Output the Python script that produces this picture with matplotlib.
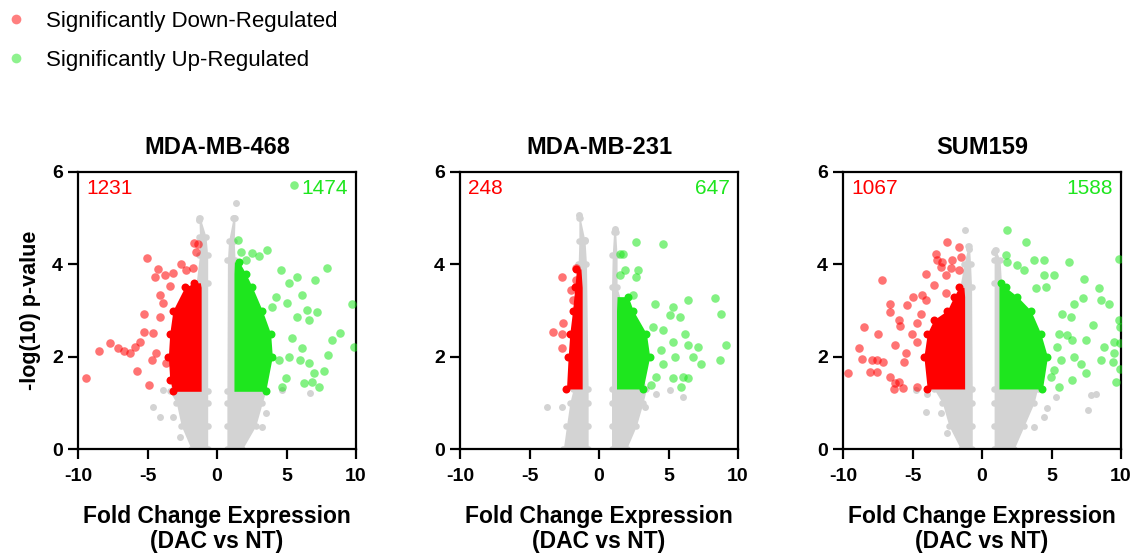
import matplotlib
matplotlib.use("Agg")
from matplotlib import pyplot as plt
from matplotlib.lines import Line2D

plt.rcParams['font.family'] = ['Liberation Sans', 'DejaVu Sans']

titles = ["MDA-MB-468", "MDA-MB-231", "SUM159"]
n_down = [1231, 248, 1067]
n_up = [1474, 647, 1588]
xticks = [-10, -5, 0, 5, 10]
yticks = [0, 2, 4, 6]

# dense cores: y levels with left / right x edges
gray_l_y = [[0, 0.5, 1.0, 1.25, 3.6, 4.2, 4.6, 5.0],
            [0, 0.5, 1.0, 1.3, 4.0, 4.5, 5.0],
            [0, 0.5, 1.0, 1.3, 3.5, 4.0, 4.4]]
gray_l_x0 = [[-1.86, -2.57, -2.93, -3.4, -1.5, -1.26, -1.26, -1.3],
             [-2.57, -2.34, -2.1, -1.86, -1.5, -1.45, -1.45],
             [-1.54, -2.38, -2.86, -3.46, -1.6, -1.3, -1.0]]
gray_l_x1 = [[-0.67, -0.67, -0.67, -0.67, -0.67, -0.67, -0.79, -1.2],
             [-0.78, -0.78, -0.78, -0.78, -0.9, -1.0, -1.35],
             [-0.70, -0.70, -0.70, -0.70, -0.75, -0.82, -0.9]]
gray_r_y = [[0, 0.5, 1.0, 1.25, 4.1, 4.5, 5.0],
            [0, 0.5, 1.0, 1.3, 3.5, 4.2, 4.7],
            [0, 0.5, 1.0, 1.3, 3.6, 4.1, 4.3]]
gray_r_x0 = [[0.71, 0.71, 0.71, 0.71, 0.75, 0.83, 1.15],
             [0.90, 0.90, 0.90, 0.90, 0.90, 0.95, 1.05],
             [0.87, 0.87, 0.87, 0.87, 0.87, 0.87, 0.9]]
gray_r_x1 = [[1.83, 2.79, 3.26, 3.5, 1.3, 1.24, 1.3],
             [1.98, 2.69, 3.17, 3.41, 1.3, 1.3, 1.2],
             [2.31, 3.03, 3.75, 4.0, 1.4, 1.3, 1.0]]

red_y = [[1.25, 1.5, 2.0, 2.5, 3.0, 3.5, 3.6],
         [1.3, 2.0, 2.5, 3.0, 3.5, 3.9],
         [1.3, 2.0, 2.5, 2.8, 3.0, 3.3, 3.5]]
red_x0 = [[-3.17, -3.4, -3.5, -3.4, -3.17, -2.33, -1.62],
          [-2.34, -2.22, -2.1, -1.9, -1.74, -1.62],
          [-3.94, -4.18, -3.94, -3.46, -2.5, -2.02, -1.66]]
red_x1 = [[-1.14, -1.14, -1.14, -1.14, -1.14, -1.14, -1.2],
          [-1.21, -1.21, -1.21, -1.21, -1.21, -1.3],
          [-1.25, -1.25, -1.25, -1.25, -1.25, -1.25, -1.3]]
green_y = [[1.25, 2.0, 2.5, 3.0, 3.5, 3.8, 4.05],
           [1.3, 2.0, 2.5, 3.0, 3.3],
           [1.3, 2.0, 2.5, 3.0, 3.3, 3.5, 3.6]]
green_x0 = [[1.22, 1.22, 1.22, 1.22, 1.22, 1.22, 1.25],
            [1.26, 1.26, 1.26, 1.26, 1.3],
            [1.22, 1.22, 1.22, 1.22, 1.22, 1.22, 1.25]]
green_x1 = [[3.5, 3.98, 3.86, 3.26, 2.55, 2.07, 1.6],
            [3.17, 3.65, 3.41, 2.46, 2.1],
            [4.35, 4.71, 4.23, 3.51, 2.55, 1.71, 1.4]]

# scattered points outside the cores
red_px = [[-9.40, -8.52, -7.69, -7.10, -6.69, -6.26, -5.90, -5.79, -5.55, -5.26, -5.24, -5.07, -4.88,
           -4.60, -4.48, -4.24, -4.12, -3.88, -3.76, -3.17, -2.57, -2.21, -1.62, -1.50, -1.38, -1.74,
           -4.36, -3.64, -4.71, -4.07, -3.40],
          [-3.29, -2.69, -2.62, -2.69, -2.69, -1.98, -1.62, -1.62, -1.86],
          [-9.66, -8.87, -8.63, -8.46, -8.08, -7.91, -7.55, -7.55, -7.50, -7.19, -7.12, -6.63, -6.59,
           -6.59, -6.23, -6.23, -5.99, -6.35, -5.67, -5.99, -5.87, -5.50, -5.38, -4.95, -5.63, -5.02,
           -4.66, -4.66, -4.42, -4.30, -4.06, -4.06, -3.46, -3.34, -3.22, -2.98, -2.86, -2.62, -2.50,
           -2.26, -2.14, -1.66, -1.54, -1.66, -2.62, -4.66]]
red_py = [[1.53, 2.12, 2.29, 2.18, 2.13, 2.09, 2.22, 1.68, 2.32, 2.54, 2.92, 4.14, 1.39,
           2.51, 3.73, 3.89, 3.34, 3.16, 3.77, 3.81, 4.01, 3.88, 4.47, 4.27, 4.45, 3.91,
           2.07, 1.86, 1.93, 2.87, 3.52],
          [2.54, 2.50, 2.72, 2.18, 3.73, 3.44, 3.91, 3.66, 3.22],
          [1.64, 2.18, 1.94, 2.65, 1.67, 1.93, 1.93, 1.67, 2.49, 3.66, 1.89, 3.15, 2.97,
           1.56, 2.25, 1.42, 1.46, 1.31, 1.33, 2.79, 2.67, 2.07, 3.11, 3.29, 1.89, 2.50,
           2.72, 2.32, 2.93, 3.33, 3.22, 3.80, 3.55, 4.23, 4.09, 3.94, 4.05, 3.76, 4.48,
           3.91, 4.09, 4.38, 4.16, 3.87, 3.37, 1.35]]
green_px = [[5.52, 9.69, 9.88, 7.90, 8.86, 8.26, 8.02, 7.07, 7.19, 6.60, 5.76, 5.17, 4.64, 6.12,
             6.48, 5.76, 5.40, 6.12, 6.00, 6.60, 6.95, 7.67, 6.83, 6.24, 4.93, 4.69, 3.62, 3.02,
             2.55, 1.71, 1.48, 2.07, 4.21, 3.98, 5.05, 4.45, 5.17, 7.31],
            [2.69, 4.61, 1.50, 1.74, 1.86, 2.81, 2.69, 1.50, 2.46, 4.01, 6.41, 8.32, 8.80, 9.16,
             8.68, 7.37, 6.77, 7.13, 6.17, 6.41, 5.81, 5.09, 5.33, 5.45, 6.05, 5.93, 6.41, 5.33,
             4.61, 4.49, 4.13, 3.77, 3.89, 4.61, 5.33],
            [1.78, 3.20, 1.71, 1.83, 2.50, 3.03, 3.75, 4.47, 6.27, 7.31, 9.88, 8.44, 8.56, 9.16,
             7.24, 6.63, 5.19, 4.47, 3.87, 4.59, 9.88, 9.90, 9.95, 9.52, 9.52, 9.95, 9.64, 9.40,
             8.80, 8.56, 7.96, 7.48, 7.48, 7.12, 6.51, 6.63, 6.15, 5.79, 6.39, 5.55, 5.43, 5.19,
             5.55, 4.95, 5.67, 6.51]]
green_py = [[5.72, 3.14, 2.22, 3.91, 2.51, 2.36, 2.04, 3.66, 2.97, 2.79, 3.73, 3.59, 3.88, 3.34,
             3.01, 2.87, 2.40, 2.18, 1.93, 1.86, 1.64, 1.68, 1.46, 1.42, 1.53, 1.35, 4.31, 4.17,
             4.24, 4.27, 4.53, 4.09, 3.30, 3.08, 3.16, 1.93, 2.00, 1.35],
            [4.48, 4.45, 4.23, 4.23, 3.87, 3.87, 3.73, 3.76, 3.33, 3.15, 3.22, 3.27, 2.93, 2.25,
             1.93, 1.85, 2.00, 2.21, 2.50, 2.25, 2.86, 2.90, 2.32, 2.00, 1.56, 1.35, 1.53, 1.53,
             1.85, 2.14, 1.56, 1.38, 2.65, 2.57, 3.08],
            [4.75, 4.48, 4.20, 4.05, 3.98, 3.87, 4.09, 4.09, 4.05, 3.69, 4.12, 3.48, 3.22, 3.15,
             3.26, 3.15, 3.76, 3.76, 3.48, 3.51, 2.79, 2.65, 2.29, 2.32, 2.07, 1.74, 1.46, 1.89,
             2.21, 1.93, 2.68, 2.36, 1.64, 1.85, 1.49, 2.00, 2.47, 2.93, 2.86, 2.50, 2.21, 1.71,
             1.35, 1.56, 1.93, 2.36]]
gray_px = [[-3.88, -4.60, -4.12, -3.17, -2.69, 3.50, 3.50, 3.26, 6.71, 4.69, -1.31, 1.24, 1.36],
           [-3.77, -2.69, 5.09, 6.05, 4.13, 3.29, -1.43, -1.02, 1.14],
           [-4.78, -3.94, -4.06, -2.98, -2.50, 4.47, 4.71, 3.75, 5.31, 7.84, 8.20, 7.60, -1.25, -0.94, 0.87]]
gray_py = [[1.28, 0.92, 0.70, 0.70, 0.27, 1.28, 0.77, 0.48, 1.21, 1.28, 4.97, 5.00, 5.32],
           [0.92, 0.92, 1.28, 1.13, 1.20, 0.92, 5.06, 4.52, 4.77],
           [1.28, 1.20, 0.81, 0.77, 0.34, 0.70, 0.88, 0.48, 1.13, 1.17, 1.20, 0.84, 4.75, 4.34, 4.27]]

RED = '#ff0000'
GREEN = '#1ee61e'
GRAY = '#d3d3d3'

fig = plt.figure(figsize=(11.39, 5.56), dpi=100)
lefts = [78 / 1139, 460 / 1139, 843 / 1139]
for i in range(3):
  ax = fig.add_axes((lefts[i], 107 / 556, 278 / 1139, 277 / 556))
  # gray background genes
  for yy, a, b in ((gray_l_y[i], gray_l_x0[i], gray_l_x1[i]), (gray_r_y[i], gray_r_x0[i], gray_r_x1[i])):
    ax.fill_betweenx(yy, a, b, color=GRAY, lw=0, zorder=1)
    ax.scatter(a + b, yy + yy, s=22, color=GRAY, lw=0, zorder=1)
  ax.scatter(gray_px[i], gray_py[i], s=25, color=GRAY, lw=0, zorder=1)
  # significant cores
  ax.fill_betweenx(red_y[i], red_x0[i], red_x1[i], color=RED, lw=0, zorder=2)
  ax.scatter(red_x0[i], red_y[i], s=33, color=RED, lw=0, zorder=2)
  ax.fill_betweenx(green_y[i], green_x0[i], green_x1[i], color=GREEN, lw=0, zorder=2)
  ax.scatter(green_x1[i], green_y[i], s=33, color=GREEN, lw=0, zorder=2)
  ax.scatter(red_px[i], red_py[i], s=38, color=RED, alpha=0.55, lw=0, zorder=3)
  ax.scatter(green_px[i], green_py[i], s=38, color=GREEN, alpha=0.55, lw=0, zorder=3)

  ax.text(0.03, 0.94, str(n_down[i]), color=RED, fontsize=15, transform=ax.transAxes, va='center', ha='left')
  ax.text(0.97, 0.94, str(n_up[i]), color=GREEN, fontsize=15, transform=ax.transAxes, va='center', ha='right')

  ax.set_xlim(-10, 10)
  ax.set_ylim(0, 6)
  ax.set_xticks(xticks)
  ax.set_yticks(yticks)
  ax.set_xticklabels([str(t) for t in xticks], fontsize=14, fontweight='bold')
  ax.set_yticklabels([str(t) for t in yticks], fontsize=14, fontweight='bold')
  ax.tick_params(direction='out', length=7, width=1.6, pad=4)
  ax.tick_params(axis='x', pad=7)
  for s in ax.spines.values():
    s.set_linewidth(1.6)
  ax.set_title(titles[i], fontsize=17, fontweight='bold', pad=13)
  ax.set_xlabel('Fold Change Expression\n(DAC vs NT)', fontsize=16.5, fontweight='bold', labelpad=14, linespacing=1.12)
  if i == 0:
    ax.set_ylabel('-log(10) p-value', fontsize=15.5, fontweight='bold', labelpad=8)

handles = [Line2D([], [], marker='o', ls='', color=RED, alpha=0.5, markersize=7, markeredgewidth=0),
           Line2D([], [], marker='o', ls='', color=GREEN, alpha=0.5, markersize=7, markeredgewidth=0)]
fig.legend(handles, ['Significantly Down-Regulated', 'Significantly Up-Regulated'],
           loc='upper left', bbox_to_anchor=(-0.013, 1.017), frameon=False, fontsize=16,
           handlelength=1.0, handletextpad=0.85, labelspacing=0.82)

fig.savefig('out.png', dpi=100)
